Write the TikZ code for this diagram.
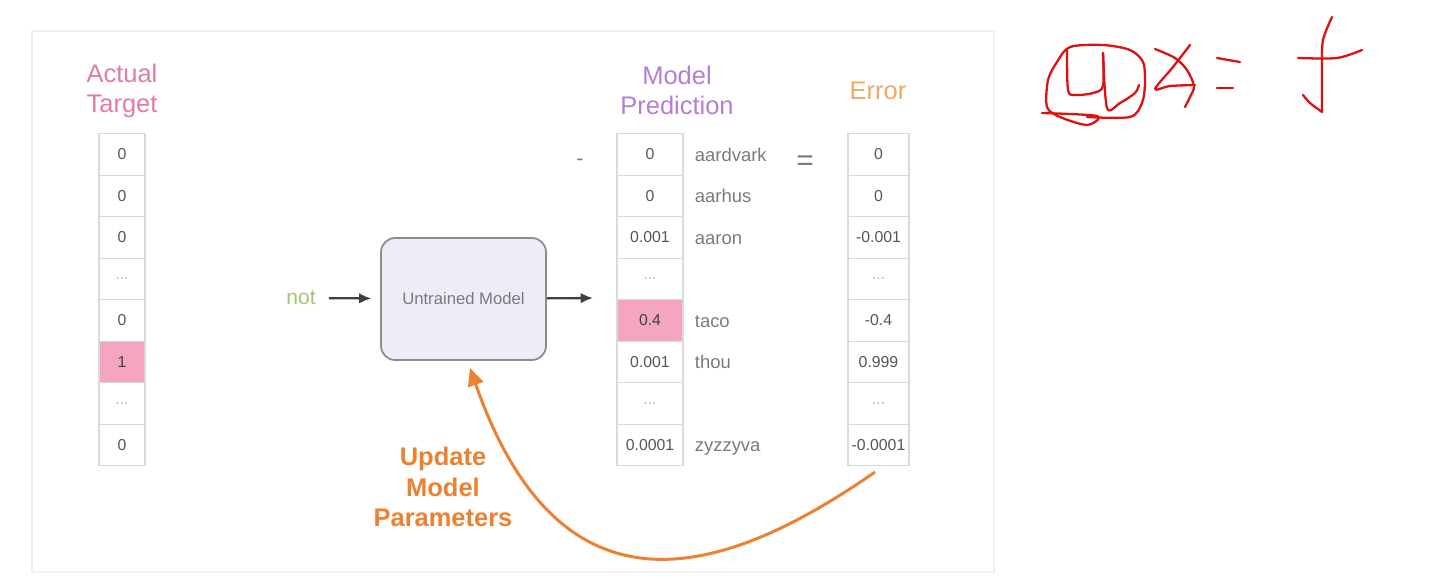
\documentclass[tikz,border=0pt]{standalone}
\usepackage{fontspec}
\setmainfont{Liberation Sans}
\usepackage{tikz}
\usetikzlibrary{arrows.meta,positioning}

\definecolor{cellline}{HTML}{DADADA}
\definecolor{numgray}{HTML}{555555}
\definecolor{wordgray}{HTML}{7A7A7A}
\definecolor{dotgray}{HTML}{B5B5B5}
\definecolor{pinkcell}{HTML}{F3A5C2}
\definecolor{pinktitle}{HTML}{E27AA6}
\definecolor{purpletitle}{HTML}{B57ED6}
\definecolor{errortitle}{HTML}{F2A865}
\definecolor{updorange}{HTML}{EE8032}
\definecolor{notgreen}{HTML}{A2C572}
\definecolor{modelfill}{HTML}{EFECF8}
\definecolor{modelline}{HTML}{8C8C8C}
\definecolor{arrgray}{HTML}{404040}
\definecolor{inkred}{HTML}{E01010}
\definecolor{slideline}{HTML}{F0F0F0}

\begin{document}
\begin{tikzpicture}[
  x=0.02cm, y=-0.02cm,
  title/.style={align=center, font=\fontsize{14.5}{17}\selectfont},
  cell/.style={draw=cellline, line width=0.6pt, rectangle, minimum height=0.83cm, inner sep=0pt, text=numgray, font=\fontsize{9}{11}\selectfont},
  tcell/.style={cell, minimum width=0.92cm},
  pcell/.style={cell, minimum width=1.32cm},
  ecell/.style={cell, minimum width=1.22cm},
  dots/.style={text=dotgray},
  hit/.style={fill=pinkcell, text=black!75},
  word/.style={inner sep=0pt, text height=8.5pt, text depth=1pt, text=wordgray, font=\fontsize{10.5}{12}\selectfont},
  model/.style={draw=modelline, line width=1pt, fill=modelfill, rounded corners=8pt, minimum width=3.3cm, minimum height=2.44cm, text=wordgray, font=\fontsize{9.5}{11}\selectfont},
  arr/.style={-{Latex[length=7pt,width=6pt]}, line width=1.3pt, arrgray},
  updarr/.style={-{Triangle[length=10pt,width=9pt]}, line width=1.7pt, updorange},
  ink/.style={inkred, line width=1.3pt, line cap=round, line join=round}
]
\useasboundingbox (0,0) rectangle (1433,578);
\draw[slideline, line width=0.8pt] (32,31) rectangle (994,572);

% target column
\node[title, text=pinktitle] (ttitle) at (122,91) {Actual\\Target};
\node[tcell] (tgt1) at (122,154.5) {0};
\node[tcell] (tgt2) at (122,196) {0};
\node[tcell] (tgt3) at (122,237.5) {0};
\node[tcell, dots] (tgt4) at (122,279) {...};
\node[tcell] (tgt5) at (122,320.5) {0};
\node[tcell, hit] (tgt6) at (122,362) {1};
\node[tcell, dots] (tgt7) at (122,403.5) {...};
\node[tcell] (tgt8) at (122,445) {0};

% model
\node[text=notgreen, font=\fontsize{12}{14}\selectfont] (word) at (301,298) {not};
\node[model] (model) at (463.5,299) {Untrained Model};
\coordinate (outtip) at (593,298);
\draw[arr, shorten <=4pt, shorten >=5pt] (word) -- (model);
\draw[arr] (model) -- (outtip);

% prediction column
\node[title, text=purpletitle] (ptitle) at (677,90) {Model\\Prediction};
\node[pcell] (pred1) at (650,154.5) {0};
\node[pcell] (pred2) at (650,196) {0};
\node[pcell] (pred3) at (650,237.5) {0.001};
\node[pcell, dots] (pred4) at (650,279) {...};
\node[pcell, hit] (pred5) at (650,320.5) {0.4};
\node[pcell] (pred6) at (650,362) {0.001};
\node[pcell, dots] (pred7) at (650,403.5) {...};
\node[pcell] (pred8) at (650,445) {0.0001};

\node[word, right=0.22cm of pred1] (w1) {aardvark};
\node[word, right=0.22cm of pred2] (w2) {aarhus};
\node[word, right=0.22cm of pred3] (w3) {aaron};
\node[word, right=0.22cm of pred5] (w5) {taco};
\node[word, right=0.22cm of pred6] (w6) {thou};
\node[word, right=0.22cm of pred8] (w8) {zyzzyva};

\node[text=wordgray, font=\fontsize{12}{14}\selectfont] (minus) at (580,162) {-};
\node[text=wordgray, font=\fontsize{17}{19}\selectfont] (equals) at (805,163) {=};

% error column
\node[title, text=errortitle] (etitle) at (878,91) {Error};
\node[ecell] (err1) at (878.5,154.5) {0};
\node[ecell] (err2) at (878.5,196) {0};
\node[ecell] (err3) at (878.5,237.5) {-0.001};
\node[ecell, dots] (err4) at (878.5,279) {...};
\node[ecell] (err5) at (878.5,320.5) {-0.4};
\node[ecell] (err6) at (878.5,362) {0.999};
\node[ecell, dots] (err7) at (878.5,403.5) {...};
\node[ecell] (err8) at (878.5,445) {-0.0001};

% feedback
\coordinate (updfrom) at (875,472);
\coordinate (updto) at (470,368);
\draw[updarr] (updfrom) .. controls (720,580) and (560,625) .. (updto);
\node[align=center, text=updorange, font=\bfseries\fontsize{14.5}{17.5}\selectfont] (upd) at (443,487) {Update\\Model\\Parameters};

% handwritten note
\draw[ink] plot[smooth] coordinates {(1042,113) (1097,116) (1087,125) (1060,117) (1047,107) (1048,80) (1057,62) (1070,47) (1103,45) (1130,50) (1143,62) (1145,83) (1142,103) (1130,117) (1087,117)};
\draw[ink] plot[smooth] coordinates {(1067,50) (1068,90) (1075,95) (1093,93) (1103,86) (1103,53)};
\draw[ink] plot[smooth] coordinates {(1103,53) (1107,108) (1120,103) (1135,93) (1139,85)};
\draw[ink] plot[smooth] coordinates {(1155,49) (1175,58) (1187,70) (1194,86) (1190,97) (1185,107)};
\draw[ink] plot[smooth] coordinates {(1190,45) (1173,67) (1155,89) (1170,86) (1195,85)};
\draw[ink] (1217,58) -- (1240,62);
\draw[ink] (1217,88) -- (1233,88);
\draw[ink] plot[smooth] coordinates {(1332,17) (1323,40) (1322,67) (1322,112)};
\draw[ink] plot[smooth] coordinates {(1322,112) (1310,103) (1303,95)};
\draw[ink] plot[smooth] coordinates {(1298,58) (1337,58) (1362,50)};
\end{tikzpicture}
\end{document}
